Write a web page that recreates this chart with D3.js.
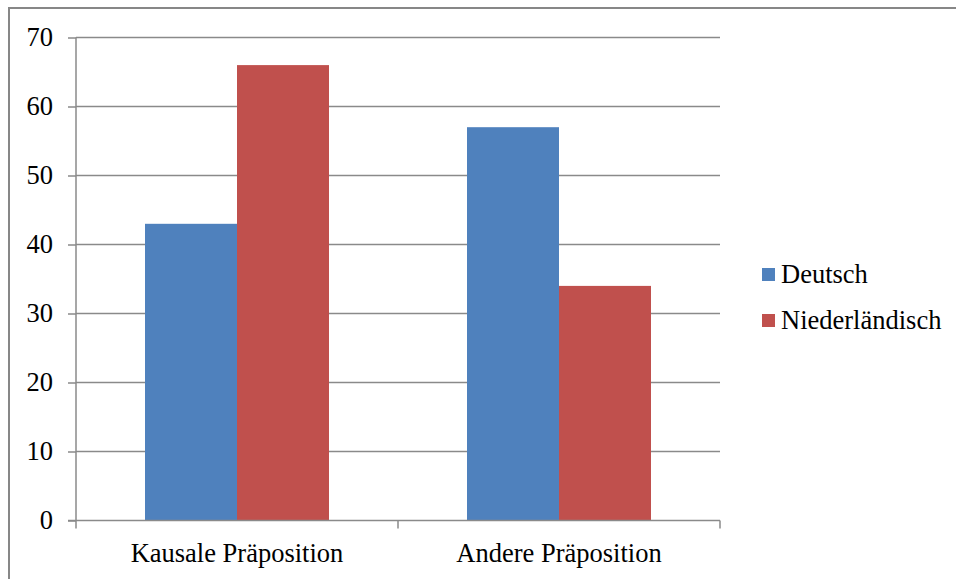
<!DOCTYPE html>
<html>
<head>
<meta charset="utf-8">
<script src="https://cdn.jsdelivr.net/npm/d3@7"></script>
<style>
  html, body { margin: 0; padding: 0; background: #fff; }
  svg { display: block; }
  text { font-family: "Liberation Serif", "Times New Roman", serif; fill: #000; }
</style>
</head>
<body>
<svg id="chart" width="956" height="579"></svg>
<script>
// Chart data
const categories = ["Kausale Präposition", "Andere Präposition"];
const seriesNames = ["Deutsch", "Niederländisch"];
const deutsch = [43, 57];
const niederlaendisch = [66, 34];
const yTicks = [0, 10, 20, 30, 40, 50, 60, 70];
const colors = ["#4F81BD", "#C0504D"];

const seriesValues = [deutsch, niederlaendisch];
const fontSize = "26.5px";
const serif = '"Liberation Serif", "Times New Roman", serif';

const svg = d3.select("#chart");
const W = 956, H = 579;

// Outer frame (runs past the right and bottom edges)
svg.append("rect")
  .attr("x", 9).attr("y", 8)
  .attr("width", W).attr("height", H)
  .attr("fill", "#fff")
  .attr("stroke", "#878787")
  .attr("stroke-width", 2);

const plot = { left: 76, right: 720, top: 37.5, bottom: 520.5 };

const y = d3.scaleLinear().domain([0, 70]).range([plot.bottom, plot.top]);
const x0 = d3.scaleBand().domain(categories).range([plot.left, plot.right]).padding(0);
// Gap width 150%: each bar is band / 3.5
const groupW = x0.bandwidth() * 2 / 3.5;
const x1 = d3.scaleBand().domain(seriesNames).range([0, groupW]).padding(0);

const gridColor = "#8a8a8a";

// Horizontal gridlines
svg.append("g")
  .selectAll("line")
  .data(yTicks.filter(d => d !== 0))
  .join("line")
  .attr("x1", plot.left).attr("x2", plot.right)
  .attr("y1", d => y(d)).attr("y2", d => y(d))
  .attr("stroke", gridColor).attr("stroke-width", 1.5);

// Bars
const groups = svg.append("g")
  .selectAll("g")
  .data(categories)
  .join("g")
  .attr("transform", c => `translate(${x0(c) + (x0.bandwidth() - groupW) / 2},0)`);

groups.selectAll("rect")
  .data((c, i) => seriesNames.map((s, j) => ({ s, v: seriesValues[j][i], j })))
  .join("rect")
  .attr("x", d => x1(d.s))
  .attr("y", d => y(d.v))
  .attr("width", x1.bandwidth())
  .attr("height", d => y(0) - y(d.v))
  .attr("fill", d => colors[d.j]);

// Y axis
const yAxis = d3.axisLeft(y).tickValues(yTicks).tickSize(8).tickPadding(15).tickFormat(d3.format("d"));
const gy = svg.append("g").attr("transform", `translate(${plot.left},0)`).call(yAxis)
  .attr("font-family", serif);
gy.select(".domain").attr("stroke", gridColor).attr("stroke-width", 1.5).attr("d", `M0,${plot.top}V${plot.bottom}`);
gy.selectAll(".tick line").attr("stroke", gridColor).attr("stroke-width", 1.5);
gy.selectAll(".tick text")
  .style("font-family", serif)
  .style("font-size", fontSize)
  .attr("fill", "#000");

// X axis with ticks at category boundaries
const gx = svg.append("g").attr("transform", `translate(0,${plot.bottom})`);
gx.append("line")
  .attr("x1", plot.left - 8).attr("x2", plot.right)
  .attr("y1", 0).attr("y2", 0)
  .attr("stroke", gridColor).attr("stroke-width", 1.5);
const boundaries = categories.map(c => x0(c)).concat([plot.right]);
gx.selectAll("line.tk")
  .data(boundaries)
  .join("line")
  .attr("class", "tk")
  .attr("x1", d => d).attr("x2", d => d)
  .attr("y1", 0).attr("y2", 8)
  .attr("stroke", gridColor).attr("stroke-width", 1.5);
gx.selectAll("text")
  .data(categories)
  .join("text")
  .attr("x", c => x0(c) + x0.bandwidth() / 2)
  .attr("y", 41)
  .attr("text-anchor", "middle")
  .style("font-family", serif)
  .style("font-size", fontSize)
  .text(c => c);

// Legend
const legend = svg.append("g");
const legItems = legend.selectAll("g")
  .data(seriesNames)
  .join("g")
  .attr("transform", (d, i) => `translate(762,${268 + i * 46})`);
legItems.append("rect")
  .attr("width", 13).attr("height", 13)
  .attr("fill", (d, i) => colors[i]);
legItems.append("text")
  .attr("x", 19).attr("y", 15)
  .style("font-family", serif)
  .style("font-size", fontSize)
  .text(d => d);
</script>
</body>
</html>
